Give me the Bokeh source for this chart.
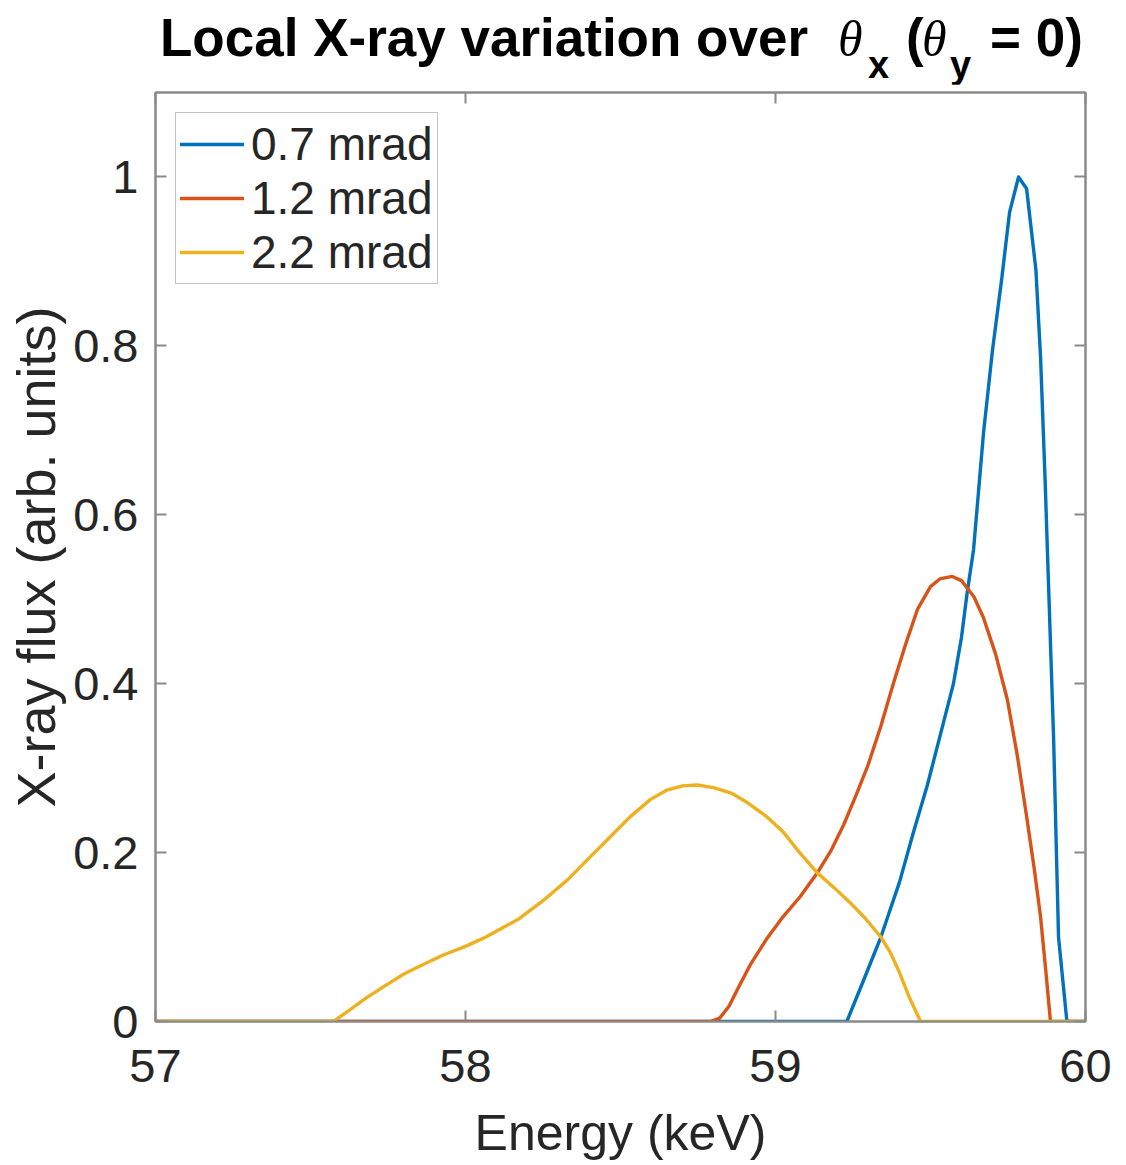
from bokeh.plotting import figure
from bokeh.models import (Range1d, LinearAxis, FixedTicker, NumeralTickFormatter,
                          Legend, LegendItem, Div)
from bokeh.layouts import column
from bokeh.embed import file_html
from bokeh.resources import INLINE

# ---------------- data ----------------
series_labels = ["0.7 mrad", "1.2 mrad", "2.2 mrad"]
series_colors = ["#0072BD", "#D95319", "#EDB120"]

energy_07 = [57.0, 59.23, 59.28, 59.34, 59.40, 59.445, 59.49, 59.53, 59.574, 59.60,
             59.618, 59.639, 59.671, 59.70, 59.73, 59.755, 59.784, 59.81, 59.84,
             59.855, 59.87, 59.877, 59.897, 59.913, 59.94, 60.0]
flux_07 = [0.0, 0.0, 0.045, 0.10, 0.165, 0.224, 0.28, 0.337, 0.40, 0.455,
           0.507, 0.559, 0.697, 0.795, 0.88, 0.958, 1.0, 0.986, 0.89,
           0.787, 0.638, 0.559, 0.337, 0.10, 0.0, 0.0]

energy_12 = [57.0, 58.79, 58.82, 58.85, 58.88, 58.92, 58.97, 59.02, 59.08, 59.135,
             59.18, 59.22, 59.26, 59.297, 59.34, 59.38, 59.42, 59.458, 59.50, 59.53,
             59.57, 59.60, 59.64, 59.67, 59.71, 59.748, 59.78, 59.81, 59.835, 59.855,
             59.872, 59.887, 60.0]
flux_12 = [0.0, 0.0, 0.004, 0.018, 0.04, 0.068, 0.097, 0.122, 0.148, 0.176,
           0.203, 0.233, 0.268, 0.302, 0.35, 0.40, 0.447, 0.488, 0.515, 0.524,
           0.527, 0.522, 0.503, 0.479, 0.435, 0.381, 0.315, 0.243, 0.18, 0.124,
           0.06, 0.0, 0.0]

energy_22 = [57.0, 57.574, 57.62, 57.68, 57.735, 57.80, 57.86, 57.93, 58.0, 58.06,
             58.12, 58.17, 58.25, 58.33, 58.40, 58.468, 58.53, 58.597, 58.65, 58.70,
             58.748, 58.80, 58.86, 58.91, 58.97, 59.026, 59.08, 59.135, 59.19, 59.24,
             59.29, 59.34, 59.37, 59.40, 59.43, 59.468, 60.0]
flux_22 = [0.0, 0.0, 0.012, 0.028, 0.041, 0.056, 0.067, 0.079, 0.089, 0.099,
           0.111, 0.121, 0.143, 0.168, 0.194, 0.219, 0.242, 0.263, 0.274, 0.279,
           0.28, 0.277, 0.27, 0.259, 0.243, 0.224, 0.199, 0.176, 0.158, 0.141,
           0.122, 0.10, 0.082, 0.058, 0.03, 0.0, 0.0]

x_ticks = [57, 58, 59, 60]
y_ticks = [0, 0.2, 0.4, 0.6, 0.8, 1.0]
x_limits = (57, 60)
y_limits = (0, 1.1)

# ---------------- styles ----------------
FONT = "Liberation Sans"
AX = "#8a8a8a"
TXT = "#262626"
TITLE_H = 84

# ---------------- title strip (HTML so the subscripts are real subscripts) ----------------
# (text, left px, baseline px, font, weight, style, size px, baseline ratio of line box)
title_parts = [
    ("Local X-ray variation over", 160, 56, FONT, "bold", "normal", 53, 0.8465),
    ("\u03b8", 838, 56, "Liberation Serif", "normal", "italic", 50, 0.8375),
    ("x", 868, 78, FONT, "bold", "normal", 38, 0.8465),
    ("(", 906, 56, FONT, "bold", "normal", 53, 0.8465),
    ("\u03b8", 922, 56, "Liberation Serif", "normal", "italic", 50, 0.8375),
    ("y", 950, 78, FONT, "bold", "normal", 38, 0.8465),
    ("= 0)", 990, 56, FONT, "bold", "normal", 53, 0.8465),
]
spans = []
for txt, left, base, fnt, weight, style, size, ratio in title_parts:
    top = base - ratio * size
    spans.append(
        f'<span style="position:absolute;left:{left}px;top:{top:.1f}px;'
        f"font-family:'{fnt}';font-weight:{weight};font-style:{style};"
        f'font-size:{size}px;line-height:1;color:#000;white-space:nowrap;">{txt}</span>')
title_html = (f'<div style="position:relative;width:1126px;height:{TITLE_H}px;'
              f'margin:0;padding:0;">' + "".join(spans) + "</div>")
title_div = Div(text=title_html, width=1126, height=TITLE_H, margin=0)

# ---------------- main plot ----------------
p = figure(width=1126, height=1079, output_backend="svg", toolbar_location=None,
           x_range=Range1d(*x_limits), y_range=Range1d(*y_limits),
           min_border_left=155, min_border_right=41, min_border_top=92 - TITLE_H,
           min_border_bottom=141)
p.grid.visible = False
p.outline_line_color = AX
p.outline_line_width = 2
p.background_fill_color = "white"
p.border_fill_color = "white"


def style_axis(ax, ticks, show_labels):
    ax.ticker = FixedTicker(ticks=ticks)
    ax.axis_line_color = AX
    ax.axis_line_width = 2
    ax.major_tick_line_color = AX
    ax.major_tick_line_width = 2
    ax.major_tick_in = 11
    ax.major_tick_out = 0
    ax.minor_tick_line_color = None
    ax.major_label_text_font = FONT
    ax.major_label_text_color = TXT
    ax.major_label_text_font_size = "47px"
    ax.axis_label_text_font = FONT
    ax.axis_label_text_font_style = "normal"
    ax.axis_label_text_color = TXT
    ax.formatter = NumeralTickFormatter(format="0.[0]")
    if not show_labels:
        ax.major_label_text_font_size = "0px"
        ax.major_label_text_alpha = 0
        ax.major_label_standoff = 0


xa = p.xaxis[0]
ya = p.yaxis[0]
style_axis(xa, x_ticks, True)
style_axis(ya, y_ticks, True)
xa.axis_label = "Energy (keV)"
xa.axis_label_text_font_size = "50px"
xa.major_label_standoff = 28
xa.axis_label_standoff = 20
ya.axis_label = "X-ray flux (arb. units)"
ya.axis_label_text_font_size = "54px"
ya.major_label_standoff = 17
ya.axis_label_standoff = 4

top_ax = LinearAxis()
right_ax = LinearAxis()
style_axis(top_ax, x_ticks, False)
style_axis(right_ax, y_ticks, False)
p.add_layout(top_ax, "above")
p.add_layout(right_ax, "right")

renderers = []
for xs, ys, c in [(energy_07, flux_07, series_colors[0]),
                  (energy_12, flux_12, series_colors[1]),
                  (energy_22, flux_22, series_colors[2])]:
    renderers.append(p.line(xs, ys, line_color=c, line_width=3.4,
                            line_join="round", line_cap="round"))

legend = Legend(items=[LegendItem(label=lab, renderers=[r])
                       for lab, r in zip(series_labels, renderers)],
                location="top_left", margin=20, padding=4, spacing=0,
                label_standoff=7, glyph_width=64, glyph_height=50, label_height=50,
                label_text_font=FONT, label_text_font_size="46px",
                label_text_color=TXT, border_line_color=AX, border_line_width=1.5,
                background_fill_color="white", background_fill_alpha=1.0)
p.add_layout(legend)

layout = column(title_div, p, spacing=0)
open("out.html", "w").write(file_html(layout, INLINE))
